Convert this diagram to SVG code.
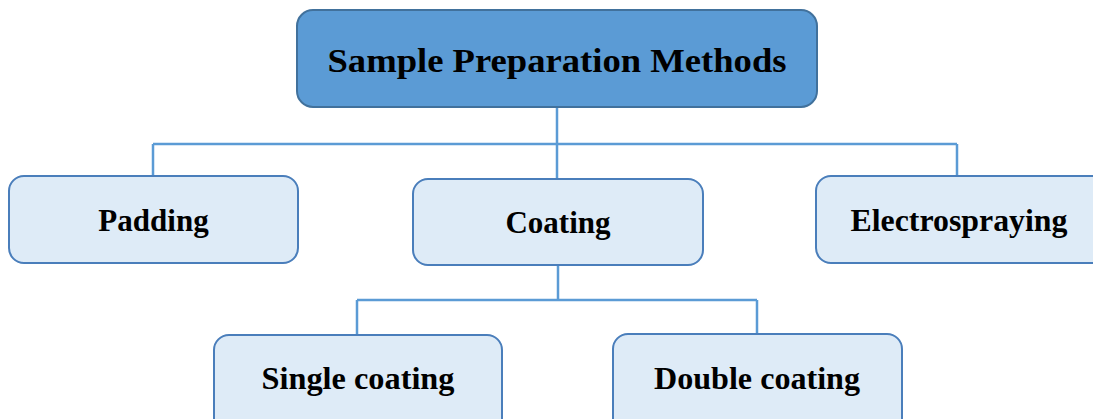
<svg xmlns="http://www.w3.org/2000/svg" width="1093" height="419" viewBox="0 0 1093 419">
  <style>
    .root { fill: #5b9bd5; stroke: #41719c; stroke-width: 2; }
    .child { fill: #deebf7; stroke: #4a7ebb; stroke-width: 2; }
    .label { font-family: "Liberation Serif", "Times New Roman", serif; font-weight: bold; fill: #000; text-anchor: middle; }
    .link { fill: none; stroke: #5b9bd5; stroke-width: 2.5; }
  </style>
  <rect width="1093" height="419" fill="#fff"/>

  <!-- connectors -->
  <g id="connectors">
    <path class="link" d="M557 107 V144 M153 144 H957 M153 144 V177 M557 144 V179 M957 144 V177"/>
    <path class="link" d="M558 265 V300 M357 300 H757 M357 300 V335 M757 300 V334"/>
  </g>

  <g id="root">
    <rect class="root" x="297" y="10" width="520" height="97" rx="16"/>
    <text class="label" x="557" y="72" font-size="34" textLength="459" lengthAdjust="spacingAndGlyphs">Sample Preparation Methods</text>
  </g>

  <g id="padding">
    <rect class="child" x="9" y="176" width="289" height="87" rx="15"/>
    <text class="label" x="153.5" y="231" font-size="31">Padding</text>
  </g>

  <g id="coating">
    <rect class="child" x="413" y="179" width="290" height="86" rx="15"/>
    <text class="label" x="558" y="233" font-size="31">Coating</text>
  </g>

  <g id="electrospraying">
    <rect class="child" x="816" y="176" width="300" height="87" rx="15"/>
    <text class="label" x="959" y="231" font-size="31" textLength="217" lengthAdjust="spacingAndGlyphs">Electrospraying</text>
  </g>

  <g id="single-coating">
    <rect class="child" x="214" y="335" width="288" height="100" rx="15"/>
    <text class="label" x="358" y="389" font-size="31" textLength="193" lengthAdjust="spacingAndGlyphs">Single coating</text>
  </g>

  <g id="double-coating">
    <rect class="child" x="613" y="334" width="289" height="100" rx="15"/>
    <text class="label" x="757" y="389" font-size="31" textLength="206" lengthAdjust="spacingAndGlyphs">Double coating</text>
  </g>
</svg>
